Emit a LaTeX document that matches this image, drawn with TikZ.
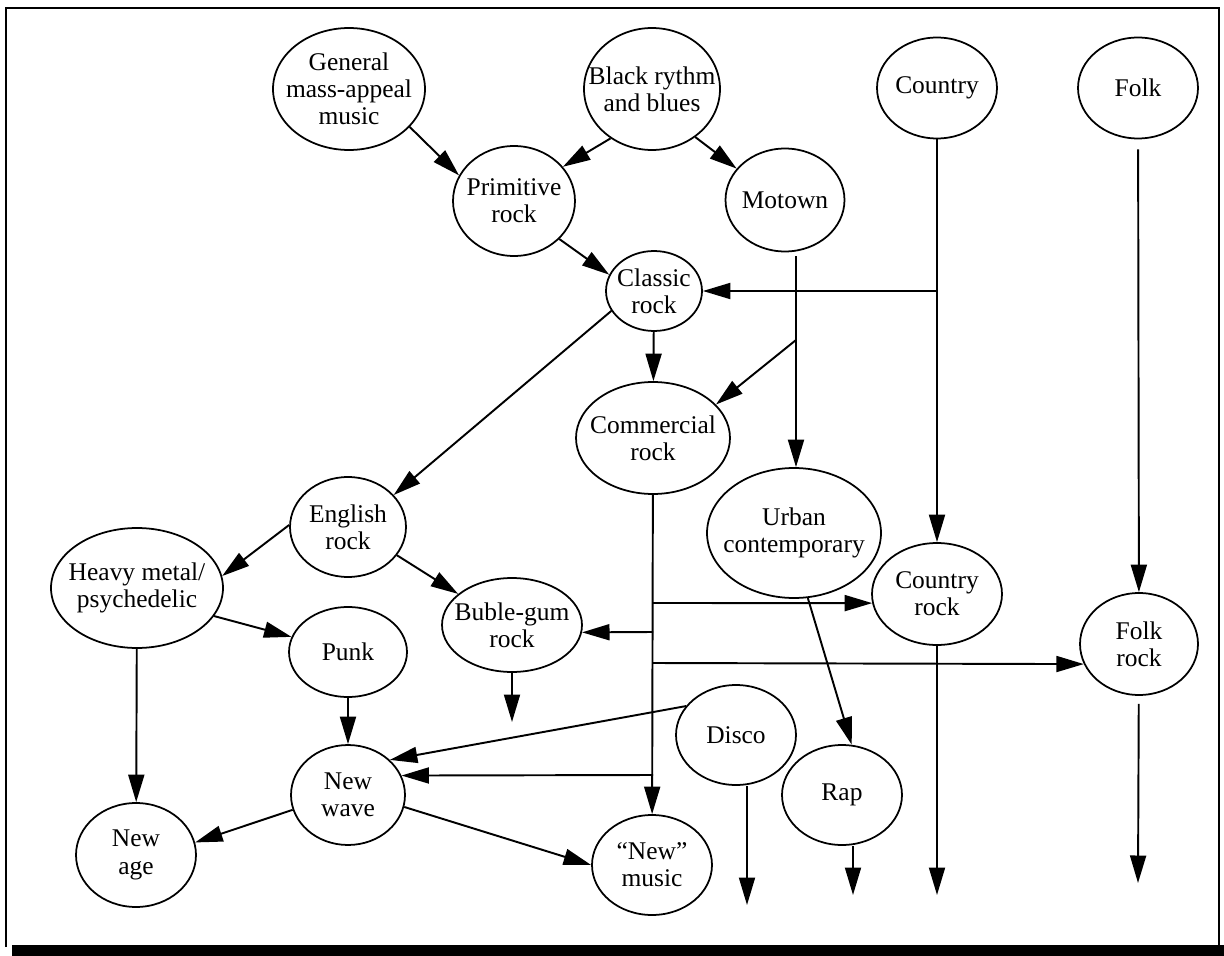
\documentclass[tikz,border=0pt]{standalone}
\usepackage{fontspec}
\setmainfont{Liberation Serif}
\usetikzlibrary{shapes.geometric,arrows.meta}
\begin{document}
\begin{tikzpicture}[x=0.02cm, y=-0.02cm,
    every node/.style={ellipse, draw, line width=1pt, align=center, inner sep=-4mm, font=\fontsize{14.5}{15.5}\selectfont},
    arr/.style={-{Triangle[length=5.5mm,width=3.2mm]}, line width=1.1pt}]
    \useasboundingbox (0,0) rectangle (1224,956);
    % Marco
    \draw[line width=0.9pt] (6,947) -- (6,8) -- (1219,8) -- (1219,947);
    \fill (12,945) rectangle (1224,956);

    % Raices
    \node[minimum width=30.4mm, minimum height=24.4mm] (gen) at (349,89) {General\\mass-appeal\\music};
    \node[minimum width=27.2mm, minimum height=24.4mm] (blk) at (652,89) {Black rythm\\and blues};
    \node[minimum width=24mm, minimum height=20.2mm] (ctry) at (937,88) {Country};
    \node[minimum width=24mm, minimum height=20.2mm] (folk) at (1138,88) {Folk};
    \node[minimum width=24.4mm, minimum height=22mm] (prim) at (514,201) {Primitive\\rock};
    \node[minimum width=23.8mm, minimum height=20.6mm] (mot) at (785,200) {Motown};
    \node[minimum width=19.2mm, minimum height=16mm] (cls) at (654,291) {Classic\\rock};
    \node[minimum width=30.8mm, minimum height=22.4mm] (com) at (653,438) {Commercial\\rock};
    \node[minimum width=34.8mm, minimum height=26mm] (urb) at (794,533) {Urban\\contemporary};

    % Ramas
    \node[minimum width=23.2mm, minimum height=20mm] (eng) at (348,527) {English\\rock};
    \node[minimum width=34.4mm, minimum height=24mm] (hvy) at (137,588) {Heavy metal/\\psychedelic};
    \node[minimum width=26mm, minimum height=20.4mm] (crock) at (937,594) {Country\\rock};
    \node[minimum width=28mm, minimum height=18.8mm] (bub) at (512,625) {Buble-gum\\rock};
    \node[minimum width=23.6mm, minimum height=18mm] (punk) at (348,652) {Punk};
    \node[minimum width=23.6mm, minimum height=20.4mm] (frock) at (1139,644) {Folk\\rock};
    \node[minimum width=24mm, minimum height=20mm] (disco) at (736,735) {Disco};
    \node[minimum width=24mm, minimum height=20mm] (rap) at (842,795) {Rap};
    \node[minimum width=22.8mm, minimum height=20mm] (nwave) at (348,795) {New\\wave};
    \node[minimum width=24mm, minimum height=20.8mm] (nage) at (136,855) {New\\age};
    \node[minimum width=24mm, minimum height=20mm] (newm) at (652,865) {``New''\\music};

    % Flechas de arriba
    \draw[arr] (gen.-32) -- (prim.155);
    \draw[arr] (blk.230) -- (prim.35);
    \draw[arr] (blk.-48) -- (mot.147);
    \draw[arr] (prim.-40) -- (cls.160);
    \draw[arr] (cls) -- (com);
    \draw[arr] (cls.205) -- (eng.35);

    % Country y Motown
    \coordinate (jc) at (937,291);
    \coordinate (jm) at (796,340);
    \draw[arr] (ctry) -- (crock);
    \draw[arr] (jc) -- (cls);
    \draw[arr, shorten <=0.8mm] (jm |- mot.south) -- (jm |- urb.north);
    \draw[arr] (jm) -- (com.28);

    % English rock
    \draw[arr] (eng.178) -- (hvy.8);
    \draw[arr] (eng.-30) -- (bub.150);
    \draw[arr] (hvy.-20) -- (punk.165);
    \draw[arr] (hvy) -- (nage);
    \draw[arr] (punk) -- (nwave);
    \coordinate (bd) at (512,722);
    \draw[arr] (bub) -- (bd);

    % Commercial rock
    \coordinate (j1) at (653,603);
    \coordinate (j2) at (653,632);
    \coordinate (j3) at (653,663);
    \coordinate (j4) at (653,775);
    \draw[arr] (com) -- (newm);
    \draw[arr] (j1) -- (crock.188);
    \draw[arr] (j2) -- (bub.-6);
    \draw[arr] (j3) -- (frock.200);
    \draw[arr] (j4) -- (nwave.20);

    % Abajo
    \draw[arr] (disco.150) -- (nwave.40);
    \coordinate (dd) at (747,905);
    \draw[arr] (dd |- disco.south) -- (dd);
    \draw[arr] (urb.-78) -- (rap.79);
    \coordinate (rd) at (853,895);
    \draw[arr] (rd |- rap.south) -- (rd);
    \coordinate (cd) at (937,895);
    \draw[arr] (crock) -- (cd);
    \draw[arr, shorten <=2mm] (folk) -- (frock);
    \coordinate (fd) at (1138,883);
    \draw[arr, shorten <=1.6mm] (frock) -- (fd);
    \draw[arr] (nwave.195) -- (nage.12);
    \draw[arr] (nwave.-12) -- (newm.west);
\end{tikzpicture}
\end{document}
